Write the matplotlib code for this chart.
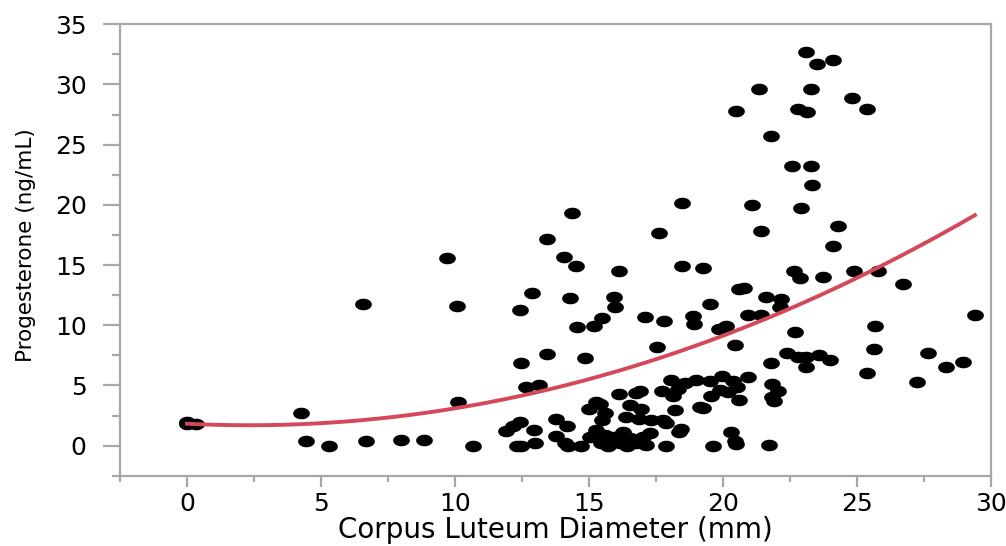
import matplotlib
matplotlib.use("Agg")
import matplotlib.pyplot as plt
from matplotlib import font_manager
from matplotlib.ticker import MultipleLocator
import numpy as np

# corpus luteum diameter (mm) and progesterone (ng/mL)
diameter = [
    0.0, 0.0, 0.35, 4.26, 4.44, 5.28, 6.56, 6.66, 7.97, 8.86, 9.69, 10.07, 10.12, 10.67,
    11.91, 12.16, 12.41, 12.3, 12.47, 12.93, 12.97, 12.47, 13.43, 12.66, 13.13, 14.86,
    13.78, 14.18, 13.76, 14.09, 14.21, 14.71, 14.99, 15.27, 15.42, 15.58, 15.5, 16.12,
    15.02, 15.27, 15.58, 15.46, 15.89, 16.14, 16.52, 16.77, 17.01, 17.26, 17.14, 15.7,
    16.4, 15.9, 16.25,
    16.77, 16.92, 17.74, 18.32, 18.13, 16.52, 16.95, 18.22, 19.13, 19.25, 16.37, 16.86,
    17.33, 17.76, 17.89, 18.45, 18.36, 20.31, 20.44, 20.5, 17.89, 19.63, 21.71,
    18.07, 18.57, 18.98, 19.53, 19.98, 20.39, 20.93, 20.52, 19.9, 20.2, 19.57, 20.6,
    17.54, 20.43,
    14.38, 13.43, 14.08, 14.53, 12.87, 12.42, 14.28, 16.12, 15.93, 15.98, 15.48, 15.18,
    14.55, 17.08, 17.79, 17.61, 18.47, 18.48, 19.24, 18.88, 18.92, 19.53, 19.85, 20.13,
    20.6, 20.8, 21.08, 21.4, 20.93, 21.41, 21.62,
    23.09, 23.49, 24.09, 21.33, 23.28, 24.8, 20.47, 22.78, 23.15, 25.38, 21.78, 22.58,
    23.28, 23.31,
    22.9, 24.28, 24.12, 22.64, 22.89, 23.74, 24.88, 25.79, 26.72, 29.4, 25.67, 25.63,
    27.66, 28.97, 28.31, 25.38, 22.68, 22.18, 22.13, 22.39, 22.78, 23.09, 23.59, 23.99,
    23.09, 21.78, 27.25, 21.82, 22.05, 21.84, 21.91,
]
progesterone = [
    1.8, 2.0, 1.8, 2.74, 0.36, 0.0, 11.77, 0.36, 0.47, 0.47, 15.56, 11.6, 3.65, 0.0,
    1.22, 1.64, 2.0, 0.0, 0.0, 1.3, 0.25, 6.87, 7.62, 4.85, 5.04, 7.31,
    2.19, 1.64, 0.8, 0.25, 0.0, 0.0, 3.07, 3.65, 3.46, 2.69, 2.13, 4.29,
    0.75, 1.3, 0.89, 0.2, 0.75, 0.2, 0.61, 0.2, 0.75, 1.03, 0.06, 0.0,
    0.0, 0.45, 1.1,
    4.35, 4.57, 4.57, 4.68, 4.13, 3.38, 3.02, 2.97, 3.24, 3.16, 2.36, 2.19,
    2.13, 2.13, 1.86, 1.36, 1.16, 1.16, 0.42, 0.1, 0.0, 0.0, 0.03,
    5.46, 5.23, 5.46, 5.4, 5.81, 5.4, 5.73, 4.9, 4.6, 4.5, 4.13, 3.8,
    8.2, 8.39,
    19.33, 17.17, 15.7, 14.93, 12.66, 11.27, 12.3, 14.51, 12.33, 11.52, 10.63, 9.97,
    9.86, 10.71, 10.38, 17.64, 20.16, 14.9, 14.76, 10.8, 10.08, 11.74, 9.69, 9.97,
    13.0, 13.1, 19.97, 17.83, 10.85, 10.83, 12.32,
    32.72, 31.68, 32.04, 29.63, 29.6, 28.9, 27.82, 27.94, 27.74, 27.94, 25.72, 23.23,
    23.23, 21.68,
    19.74, 18.25, 16.59, 14.51, 13.95, 13.99, 14.51, 14.51, 13.43, 10.86, 9.94, 8.0,
    7.67, 6.93, 6.51, 6.01, 9.47, 12.2, 11.55, 7.73, 7.39, 7.34, 7.53, 7.12,
    6.51, 6.84, 5.29, 5.12, 4.57, 4.07, 3.74,
]

x = np.array(diameter)
y = np.array(progesterone)

# quadratic trend through the data
coef = np.polyfit(x, y, 2)
xfit = np.linspace(x.min(), x.max(), 200)
yfit = np.polyval(coef, xfit)

names = {f.name for f in font_manager.fontManager.ttflist}
if "Liberation Sans Narrow" in names:
    ylab_font, ylab_size = "Liberation Sans Narrow", 20
else:
    ylab_font, ylab_size = "DejaVu Sans", 15.5

plt.rcParams["font.family"] = "DejaVu Sans"

fig = plt.figure(figsize=(10.06, 5.46), dpi=100)
ax = fig.add_axes([0.1193, 0.1286, 0.8658, 0.8269])

t = np.linspace(0, 2 * np.pi, 60)
oval = np.column_stack([np.cos(t), np.sin(t) / 1.5])
ax.plot(x, y, linestyle="none", marker=oval, markersize=11, color="black", zorder=2)
ax.plot(xfit, yfit, color="#d5485a", linewidth=2.8, zorder=3)

ax.set_xlim(-2.5, 30)
ax.set_ylim(-2.5, 35)
ax.xaxis.set_major_locator(MultipleLocator(5))
ax.xaxis.set_minor_locator(MultipleLocator(2.5))
ax.yaxis.set_major_locator(MultipleLocator(5))
ax.yaxis.set_minor_locator(MultipleLocator(2.5))

gray = "#a8a8a8"
for s in ax.spines.values():
    s.set_color(gray)
    s.set_linewidth(1.6)
ax.tick_params(axis="both", which="both", color=gray, width=1.6, labelsize=18)
ax.tick_params(axis="y", which="major", length=12, pad=12)
ax.tick_params(axis="y", which="minor", length=6)
ax.tick_params(axis="x", which="major", length=8, pad=4)
ax.tick_params(axis="x", which="minor", length=4)

fig.text(555 / 1006, 1 - 530 / 546, "Corpus Luteum Diameter (mm)", ha="center", va="center",
         fontsize=20)
fig.text(26 / 1006, 1 - 245 / 546, "Progesterone (ng/mL)", ha="center", va="center",
         rotation=90, fontsize=ylab_size, family=ylab_font)

fig.savefig("out.png", dpi=100)
